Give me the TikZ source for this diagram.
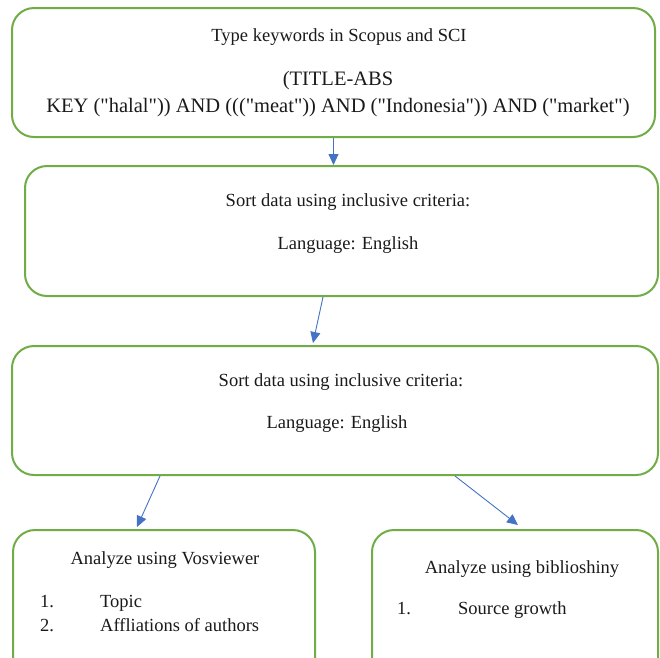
\documentclass[tikz,border=0pt]{standalone}
\usepackage{fontspec}
\setmainfont{Liberation Serif}[Ligatures=TeXOff]
\usetikzlibrary{arrows.meta}
\definecolor{boxgreen}{HTML}{70AD47}
\definecolor{arrblue}{HTML}{4472C4}
\definecolor{txt}{HTML}{1A1A1A}
\tikzset{
  flowbox/.style={draw=boxgreen, line width=2pt, rounded corners=22pt, inner sep=0pt, fill=white},
  lbl/.style={anchor=base, inner sep=0pt, text=txt, font=\fontsize{18.5}{20}\selectfont},
  biglbl/.style={anchor=base, inner sep=0pt, text=txt, font=\fontsize{20.5}{22}\selectfont},
  lleft/.style={anchor=base west, inner sep=0pt, text=txt, font=\fontsize{18.5}{20}\selectfont},
  arr/.style={draw=arrblue, line width=0.9pt, -{Triangle[length=11pt,width=10pt]}}
}
\begin{document}
\begin{tikzpicture}[x=1pt,y=-1pt]
\useasboundingbox (0,0) rectangle (660,657);
\clip (0,0) rectangle (660,657);
% boxes
\node[flowbox, minimum width=643pt, minimum height=129pt] (b1) at (333.5,72.5) {};
\node[flowbox, minimum width=633pt, minimum height=130pt] (b2) at (341.5,231) {};
\node[flowbox, minimum width=646pt, minimum height=129pt] (b3) at (335,410.5) {};
\node[flowbox, minimum width=302pt, minimum height=150pt] (b4) at (164,605) {};
\node[flowbox, minimum width=286pt, minimum height=150pt] (b5) at (515,605) {};
% texts
\node[lbl] (t1) at (339,41) {Type keywords in Scopus and SCI};
\node[biglbl] (t2) at (338,85) {(TITLE-ABS};
\node[biglbl] (t3) at (338,112) {KEY ("halal")) AND ((("meat")) AND ("Indonesia")) AND ("market")};
\node[lbl] (t4) at (348,206) {Sort data using inclusive criteria:};
\node[lbl] (t5) at (348,249) {Language: English};
\node[lbl] (t6) at (341,386) {Sort data using inclusive criteria:};
\node[lbl] (t7) at (337,428) {Language: English};
\node[lbl] (t8) at (165,564) {Analyze using Vosviewer};
\node[lleft] (t9) at (40,607) {1.};
\node[lleft] (t10) at (100,607) {Topic};
\node[lleft] (t11) at (40,631) {2.};
\node[lleft] (t12) at (100,631) {Affliations of authors};
\node[lbl] (t13) at (522,573) {Analyze using biblioshiny};
\node[lleft] (t14) at (397,614) {1.};
\node[lleft] (t15) at (458,614) {Source growth};
% arrows
\draw[arr] (b1.south) -- (b1.south |- b2.north);
\draw[arr] ([xshift=-18.5pt]b2.south) -- ([xshift=-22pt,yshift=2pt]b3.north);
\draw[arr] ([xshift=-175pt]b3.south) -- ([xshift=-27pt,yshift=2pt]b4.north);
\draw[arr] ([xshift=120pt]b3.south) -- ([xshift=3pt,yshift=4pt]b5.north);
\end{tikzpicture}
\end{document}
